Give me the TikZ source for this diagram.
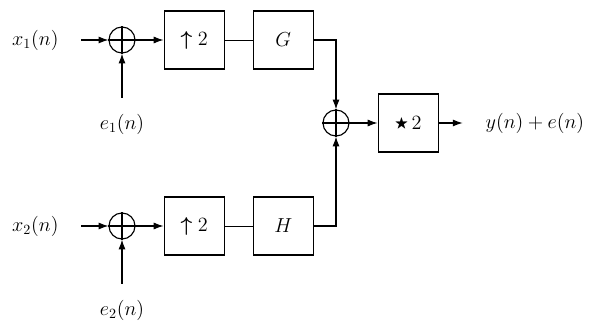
\documentclass[tikz,border=0pt]{standalone}
\usepackage{amsmath,amssymb}
\usepackage{tikz}
\usetikzlibrary{arrows.meta, positioning}
\tikzstyle{sumnode} = [circle, draw=black, thick, minimum size=0.65cm, inner sep=0pt]
\tikzstyle{block}   = [rectangle, draw=black, thick, minimum width=1.5cm,
                       minimum height=1.45cm, text centered, font=\Large]
\tikzstyle{lbl}     = [font=\Large]
\tikzstyle{arr}     = [-{Latex[length=7pt,width=5pt]}, thick]
\tikzstyle{link}    = [semithick]

\begin{document}
\begin{tikzpicture}[node distance=0.7cm]
  \useasboundingbox (0,0) rectangle (14.825,-8.175);

  % upper branch
  \node[sumnode] (sumA) at (3.05,-1.0) {};
  \draw[thick] (sumA.north) -- (sumA.south) (sumA.west) -- (sumA.east);
  \node[block, right=of sumA] (upA) {$\boldsymbol{\uparrow} 2$};
  \node[block, right=of upA] (G) {$G$};
  \coordinate[left=0.675cm of sumA] (xa);
  \node[lbl, left=0.45cm of xa] (x1) {$x_1(n)$};
  \coordinate[below=1.1cm of sumA] (ea);
  \node[lbl, below=0.3cm of ea] (e1) {$e_1(n)$};
  \draw[arr] (xa) -- (sumA);
  \draw[arr] (ea) -- (sumA);
  \draw[arr] (sumA) -- (upA);
  \draw[link] (upA) -- (G);

  % lower branch
  \node[sumnode] (sumB) at (3.05,-5.65) {};
  \draw[thick] (sumB.north) -- (sumB.south) (sumB.west) -- (sumB.east);
  \node[block, right=of sumB] (upB) {$\boldsymbol{\uparrow} 2$};
  \node[block, right=of upB] (H) {$H$};
  \coordinate[left=0.675cm of sumB] (xb);
  \node[lbl, left=0.45cm of xb] (x2) {$x_2(n)$};
  \coordinate[below=1.1cm of sumB] (eb);
  \node[lbl, below=0.3cm of eb] (e2) {$e_2(n)$};
  \draw[arr] (xb) -- (sumB);
  \draw[arr] (eb) -- (sumB);
  \draw[arr] (sumB) -- (upB);
  \draw[link] (upB) -- (H);

  % output stage
  \node[sumnode] (sumC) at (8.4,-3.075) {};
  \draw[thick] (sumC.north) -- (sumC.south) (sumC.west) -- (sumC.east);
  \node[block, right=of sumC] (dbl) {\raisebox{0.15ex}{\scalebox{0.7}{$\bigstar$}}\,2};
  \coordinate[right=0.6cm of dbl] (yend);
  \node[lbl, right=0.45cm of yend, anchor=west] (yout) {$y(n)+e(n)$};
  \draw[arr] (G.east) -| (sumC.north);
  \draw[arr] (H.east) -| (sumC.south);
  \draw[arr] (sumC) -- (dbl);
  \draw[arr] (dbl) -- (yend);

\end{tikzpicture}
\end{document}
